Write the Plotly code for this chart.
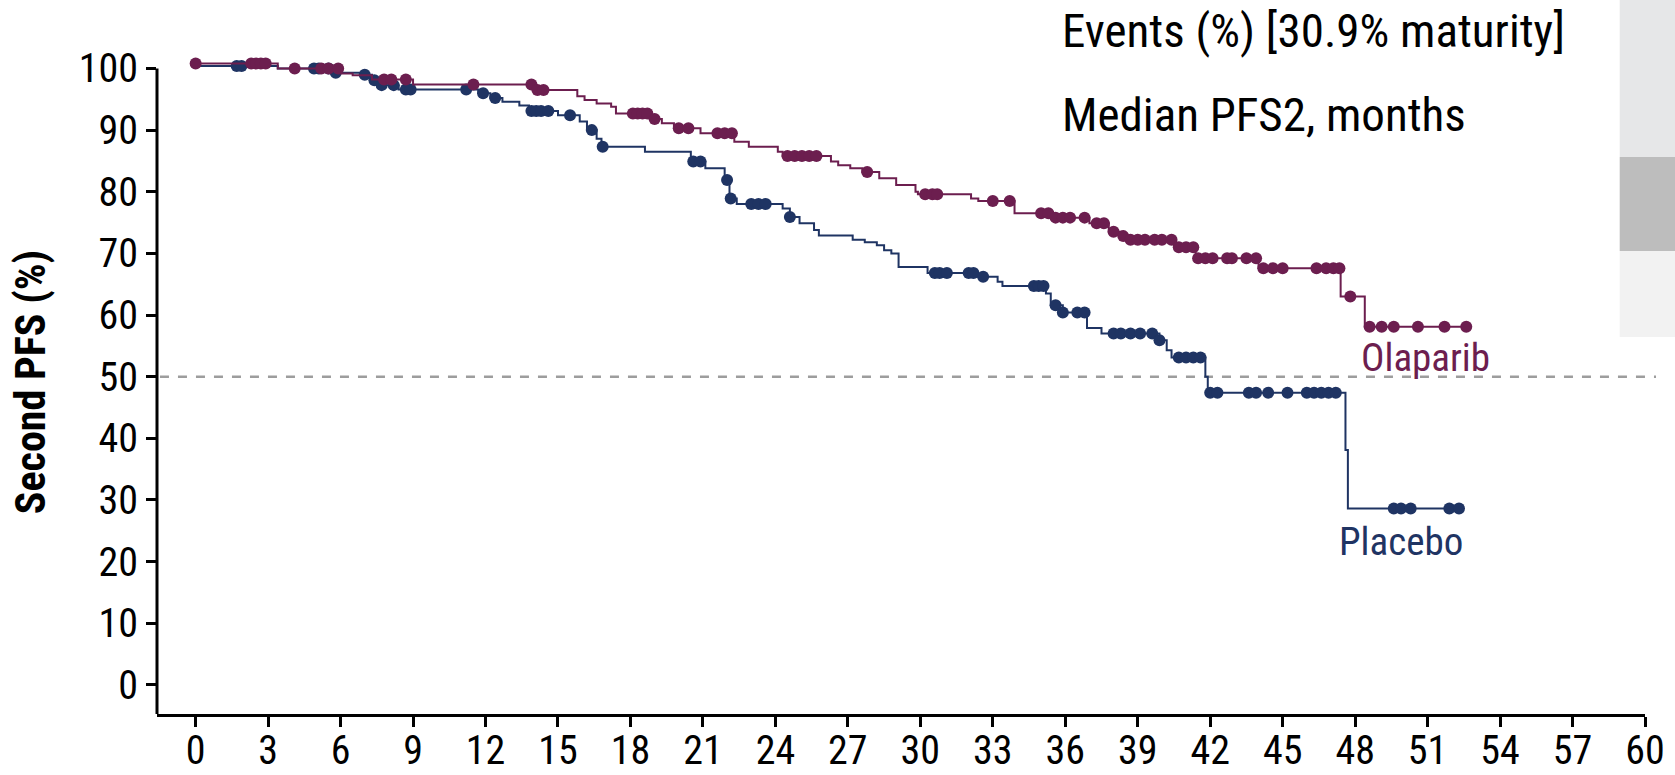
import bisect
import plotly.graph_objects as go

# Kaplan-Meier step data: each value holds from its time until the next time
ola_times = [0, 3.4, 6.0, 6.5, 7.3, 9.0, 14.1, 15.8, 16.1, 16.6, 17.2, 17.4, 18.8, 19.3,
             19.8, 20.9, 22.3, 22.9, 24.1, 24.3, 26.3, 26.6, 27.1, 27.6, 28.3, 29.0, 29.8,
             29.9, 32.1, 32.4, 33.9, 35.5, 37.0, 37.8, 38.4, 38.7, 40.5, 41.4, 44.0, 47.4,
             48.4, 52.6]
ola_surv = [100.8, 100.0, 99.2, 98.9, 98.2, 97.4, 96.5, 95.5, 94.9, 94.3, 93.8, 92.7, 91.8, 91.1,
            90.3, 89.5, 88.1, 87.3, 86.5, 85.8, 84.9, 84.3, 83.8, 83.2, 82.2, 81.1, 80.0,
            79.6, 78.9, 78.5, 76.5, 75.8, 74.9, 73.5, 72.8, 72.2, 71.0, 69.2, 67.6, 63.0,
            58.1, 58.1]
ola_censor = [0.0, 2.3, 2.5, 2.7, 2.9, 4.1, 5.2, 5.5, 5.9, 7.8, 8.1, 8.7, 11.5, 13.9, 14.15, 14.4,
              18.1, 18.3, 18.5, 18.7, 19.0, 20.0, 20.4, 21.6, 21.9, 22.2, 24.5, 24.8, 25.1,
              25.4, 25.7, 27.8, 30.2, 30.5, 30.7, 33.0, 33.7, 35.0, 35.3, 35.6, 35.9, 36.2,
              36.8, 37.3, 37.6, 38.0, 38.4, 38.7, 39.0, 39.3, 39.7, 40.0, 40.4, 40.7, 41.0,
              41.3, 41.5, 41.8, 42.1, 42.7, 42.9, 43.5, 43.9, 44.2, 44.6, 45.0, 46.4, 46.8,
              47.1, 47.35, 47.8, 48.6, 49.1, 49.6, 50.6, 51.7, 52.6]

pla_times = [0, 3.4, 5.7, 6.8, 7.3, 7.6, 8.4, 11.7, 12.2, 12.7, 13.4, 13.8, 15.0, 15.9, 16.2,
             16.6, 16.8, 18.6, 20.5, 20.6, 21.1, 21.9, 22.1, 22.4, 24.3, 24.6, 25.0, 25.6,
             25.8, 27.2, 27.7, 28.2, 28.5, 28.8, 29.1, 30.3, 32.3, 33.2, 33.4, 35.2, 35.4,
             35.9, 36.9, 37.5, 39.9, 40.2, 40.4, 41.8, 41.9, 47.6, 47.7, 52.3]
pla_surv = [100.4, 100.0, 99.3, 99.0, 98.1, 97.3, 96.6, 96.0, 95.2, 94.6, 94.0, 93.1, 92.4, 91.4,
            90.0, 88.6, 87.3, 86.5, 85.6, 84.9, 83.8, 81.9, 78.9, 78.0, 77.3, 75.9, 74.9,
            73.8, 72.9, 72.2, 71.8, 71.3, 70.5, 70.0, 67.8, 66.8, 66.2, 65.4, 64.7, 63.5,
            61.6, 60.4, 57.9, 57.0, 55.9, 54.3, 53.1, 50.0, 47.4, 38.1, 28.6, 28.6]
pla_censor = [1.7, 1.9, 4.9, 5.1, 5.5, 5.8, 7.0, 7.4, 7.7, 8.2, 8.7, 8.9, 11.2, 11.9, 12.4,
              13.9, 14.1, 14.3, 14.6, 15.5, 16.4, 16.85, 20.6, 20.9, 22.0, 22.15, 23.0, 23.3,
              23.6, 24.6, 30.6, 30.8, 31.1, 32.0, 32.2, 32.6, 34.7, 34.9, 35.1, 35.6, 35.9,
              36.5, 36.8, 38.0, 38.3, 38.7, 39.1, 39.6, 39.9, 40.7, 41.0, 41.3, 41.6, 42.0,
              42.3, 43.6, 43.9, 44.4, 45.2, 46.0, 46.3, 46.6, 46.9, 47.2, 49.6, 49.9, 50.3,
              51.9, 52.3]

x_ticks = list(range(0, 61, 3))
y_ticks = list(range(0, 101, 10))

OLA_COLOR = "#6c1e4f"
PLA_COLOR = "#1f3463"
FONT = "Liberation Sans Narrow, Arial Narrow, Roboto Condensed, sans-serif"


def surv_at(times, surv, t):
    i = bisect.bisect_right(times, t) - 1
    return surv[max(i, 0)]


fig = go.Figure()

for times, surv, cens, color in [
    (pla_times, pla_surv, pla_censor, PLA_COLOR),
    (ola_times, ola_surv, ola_censor, OLA_COLOR),
]:
    fig.add_trace(go.Scatter(
        x=times, y=surv, mode="lines", line=dict(color=color, width=2, shape="hv"),
        showlegend=False, hoverinfo="skip",
    ))
    fig.add_trace(go.Scatter(
        x=cens, y=[surv_at(times, surv, t) for t in cens], mode="markers",
        marker=dict(color=color, size=12, line=dict(width=0)),
        showlegend=False, hoverinfo="skip",
    ))

Y_MIN, Y_MAX = -4.74, 103.0

shapes = [
    # right-hand panel blocks
    dict(type="rect", xref="paper", yref="paper", x0=0.983, x1=1.03, y0=0.8389, y1=1.08,
         fillcolor="#e6e7e8", line=dict(width=0), layer="below"),
    dict(type="rect", xref="paper", yref="paper", x0=0.983, x1=1.03, y0=0.6973, y1=0.8389,
         fillcolor="#bdbdbd", line=dict(width=0), layer="below"),
    dict(type="rect", xref="paper", yref="paper", x0=0.983, x1=1.03, y0=0.5678, y1=0.6973,
         fillcolor="#f2f2f2", line=dict(width=0), layer="below"),
    # median reference line
    dict(type="line", xref="paper", yref="y", x0=0.002, x1=1.0074, y0=50, y1=50,
         line=dict(color="#9d9d9d", width=2.5, dash="dash"), layer="below"),
    # y axis spine up to 100
    dict(type="line", xref="paper", yref="y", x0=0, x1=0, y0=Y_MIN, y1=100,
         line=dict(color="black", width=3)),
]

annotations = [
    dict(text="Events (%) [30.9% maturity]", xref="x", yref="paper", x=35.8, y=1.029,
         xanchor="left", yanchor="middle", showarrow=False,
         font=dict(family=FONT, size=47, color="black")),
    dict(text="Median PFS2, months", xref="x", yref="paper", x=35.8, y=0.903,
         xanchor="left", yanchor="middle", showarrow=False,
         font=dict(family=FONT, size=47, color="black")),
    dict(text="Olaparib", xref="x", yref="y", x=50.9, y=53.0,
         xanchor="center", yanchor="middle", showarrow=False,
         font=dict(family=FONT, size=39, color=OLA_COLOR)),
    dict(text="Placebo", xref="x", yref="y", x=49.9, y=23.2,
         xanchor="center", yanchor="middle", showarrow=False,
         font=dict(family=FONT, size=39, color=PLA_COLOR)),
]

fig.update_layout(
    width=1675, height=775,
    margin=dict(l=157, r=30, t=50, b=61, autoexpand=False),
    paper_bgcolor="white", plot_bgcolor="white",
    font=dict(family=FONT, color="black"),
    shapes=shapes, annotations=annotations,
    xaxis=dict(
        range=[-1.6, 60], tickvals=x_ticks, ticktext=[str(v) for v in x_ticks],
        showgrid=False, zeroline=False, showline=True, linecolor="black", linewidth=3,
        ticks="outside", ticklen=10, tickwidth=3, tickcolor="black",
        ticklabelstandoff=-11,
        tickfont=dict(family=FONT, size=40, color="black"),
    ),
    yaxis=dict(
        range=[Y_MIN, Y_MAX], tickvals=y_ticks, ticktext=[str(v) for v in y_ticks],
        showgrid=False, zeroline=False, showline=False,
        ticks="outside", ticklen=10, tickwidth=3, tickcolor="black",
        tickfont=dict(family=FONT, size=40, color="black"),
        title=dict(text="<b>Second PFS (%)</b>", standoff=20,
                   font=dict(family=FONT, size=42, color="black")),
    ),
)

fig.write_html("out.html")
